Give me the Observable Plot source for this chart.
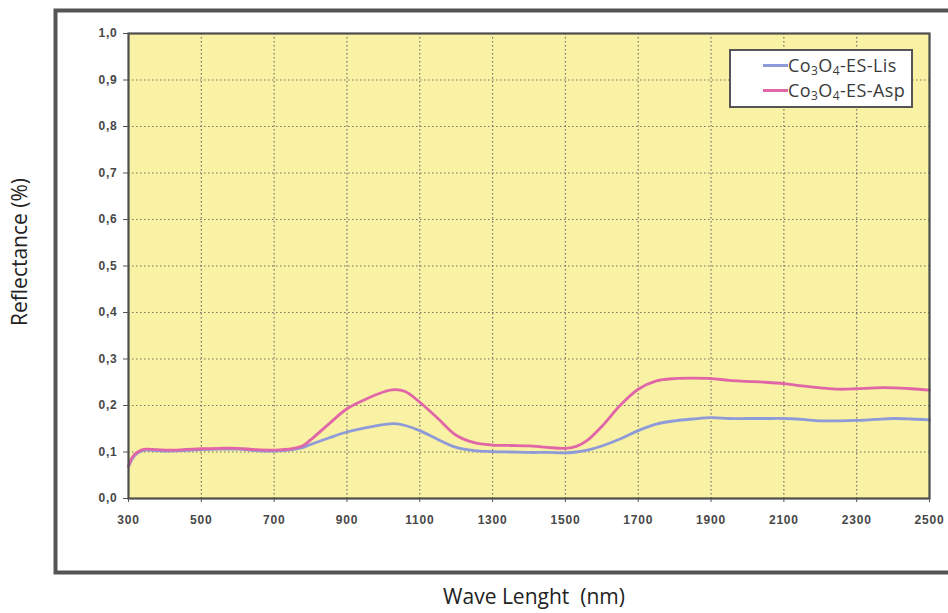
<!DOCTYPE html>
<html>
<head>
<meta charset="utf-8">
<script src="https://cdn.jsdelivr.net/npm/d3@7"></script>
<script src="https://cdn.jsdelivr.net/npm/@observablehq/plot@0.6"></script>
<style>
  html, body { margin: 0; padding: 0; background: #fff; }
  #wrap { position: relative; width: 948px; height: 613px; overflow: hidden; }
  #wrap svg { display: block; }
  #wrap svg g[aria-label="x-axis tick label"] text,
  #wrap svg g[aria-label="y-axis tick label"] text { letter-spacing: 0.8px; }
  #legend {
    position: absolute; left: 729px; top: 49px; width: 180px; height: 55px;
    border: 2px solid #555; background: #fff;
    font-family: "Open Sans", sans-serif; font-size: 18px; color: #3a3a3a; letter-spacing: 0.4px;
  }
  #legend .row { position: absolute; left: 0; height: 22px; line-height: 22px; white-space: nowrap; }
  #legend .sw { position: absolute; left: 32px; top: 10px; width: 25px; height: 2.5px; }
  #legend .lab { position: absolute; left: 57px; top: 0; }
  #legend sub { font-size: 12px; vertical-align: -3px; line-height: 0; }
</style>
</head>
<body>
<div id="wrap"></div>
<script>
// ---- data ----
const wavelength = [300,310,320,335,350,400,450,500,550,600,650,700,750,780,800,850,900,950,1000,1030,1060,1100,1150,1200,1250,1300,1350,1400,1450,1500,1530,1560,1600,1650,1700,1750,1800,1850,1900,1950,2000,2050,2100,2150,2200,2250,2300,2350,2400,2450,2500];
const lisValues = [0.068,0.085,0.095,0.102,0.104,0.102,0.103,0.105,0.106,0.106,0.103,0.102,0.105,0.110,0.116,0.130,0.143,0.152,0.159,0.161,0.157,0.146,0.127,0.110,0.103,0.101,0.100,0.099,0.099,0.098,0.100,0.104,0.113,0.128,0.146,0.160,0.167,0.171,0.174,0.172,0.172,0.172,0.172,0.170,0.167,0.167,0.168,0.170,0.172,0.171,0.169];
const aspValues = [0.070,0.088,0.097,0.104,0.106,0.104,0.105,0.107,0.108,0.108,0.105,0.104,0.107,0.114,0.126,0.160,0.193,0.213,0.229,0.234,0.230,0.207,0.172,0.136,0.120,0.115,0.114,0.113,0.110,0.108,0.112,0.125,0.155,0.200,0.235,0.253,0.258,0.259,0.258,0.254,0.252,0.250,0.247,0.242,0.238,0.235,0.236,0.238,0.238,0.236,0.233];
const seriesKeys = ["Lis", "Asp"];
const seriesLabels = ["Co<sub>3</sub>O<sub>4</sub>-ES-Lis", "Co<sub>3</sub>O<sub>4</sub>-ES-Asp"];
const seriesColors = ["#8e9bd8", "#e066a8"];
const xTicks = [300,500,700,900,1100,1300,1500,1700,1900,2100,2300,2500];
const yTicks = [0,0.1,0.2,0.3,0.4,0.5,0.6,0.7,0.8,0.9,1.0];
const xTitle = ["Wave Lenght\u00a0 (nm)"];
const yTitle = ["Reflectance (%)"];

const rows = wavelength.flatMap((w, i) => [
  {w, r: lisValues[i], s: seriesKeys[0]},
  {w, r: aspValues[i], s: seriesKeys[1]}
]);

const tickFont = {fontSize: 12, fontWeight: "bold", fill: "#474747", fontFamily: "Liberation Sans, Arial, sans-serif"};

const chart = Plot.plot({
  width: 948, height: 613,
  marginLeft: 128, marginRight: 19, marginTop: 33, marginBottom: 115,
  style: {background: "transparent", fontFamily: "Liberation Sans, Arial, sans-serif"},
  x: {domain: [300, 2500]},
  y: {domain: [0, 1]},
  color: {domain: seriesKeys, range: seriesColors},
  marks: [
    Plot.frame({fill: "#f9f1a4", stroke: null}),
    Plot.gridX(xTicks, {stroke: "#5e5e5e", strokeOpacity: 0.85, strokeWidth: 1.2, strokeDasharray: "1.5,2.5"}),
    Plot.gridY(yTicks, {stroke: "#5e5e5e", strokeOpacity: 0.85, strokeWidth: 1.2, strokeDasharray: "1.5,2.5"}),
    Plot.line(rows, {x: "w", y: "r", z: "s", stroke: "s", strokeWidth: 2.8, curve: "catmull-rom"}),
    Plot.frame({stroke: "#4e4e4e", strokeWidth: 2.2}),
    Plot.frame({stroke: "#555", strokeWidth: 4, insetLeft: -73, insetTop: -23, insetBottom: -74, insetRight: -30}),
    Plot.axisX(xTicks, {tickSize: 4, tickPadding: 13, label: null, stroke: "#555", tickFormat: d => String(d), ...tickFont}),
    Plot.axisY(yTicks, {tickSize: 5, tickPadding: 6, label: null, stroke: "#555", tickFormat: d => d.toFixed(1).replace(".", ","), ...tickFont}),
    Plot.text(yTitle, {text: d => d, frameAnchor: "left", dx: -108, dy: 60, rotate: -90, fontSize: 21, fontFamily: "Open Sans", fill: "#222"}),
    Plot.text(xTitle, {text: d => d, frameAnchor: "bottom", lineAnchor: "middle", dx: 5, dy: 99, fontSize: 21, fontFamily: "Open Sans", fill: "#222"})
  ]
});

const wrap = document.getElementById("wrap");
wrap.appendChild(chart);

// legend
const legend = document.createElement("div");
legend.id = "legend";
seriesLabels.forEach((lab, i) => {
  const row = document.createElement("div");
  row.className = "row";
  row.style.top = (3 + i * 25) + "px";
  row.innerHTML = `<span class="sw" style="background:${seriesColors[i]}"></span><span class="lab">${lab}</span>`;
  legend.appendChild(row);
});
wrap.appendChild(legend);
</script>
</body>
</html>
